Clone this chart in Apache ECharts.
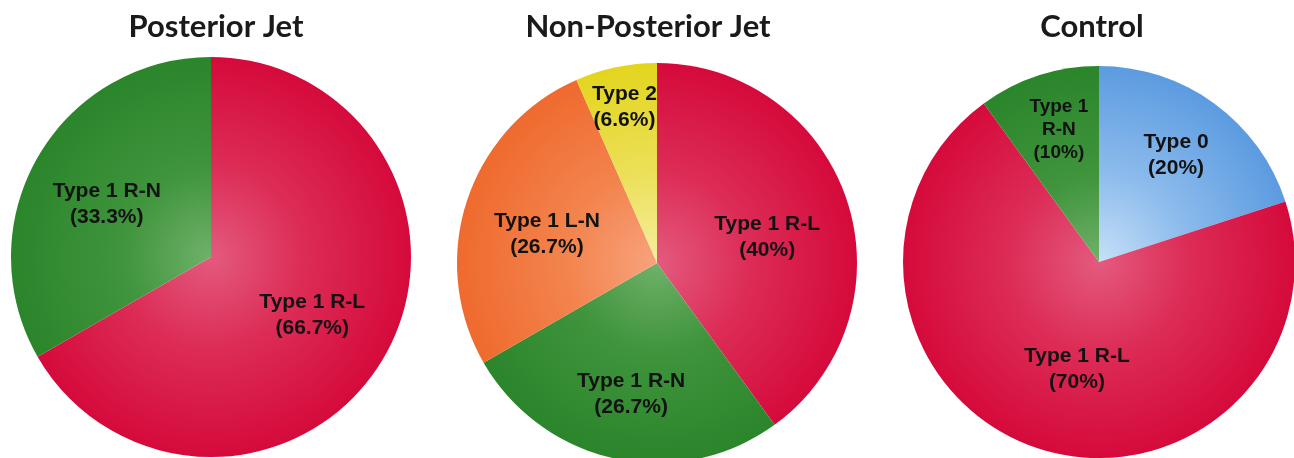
<!DOCTYPE html>
<html>
<head>
<meta charset="utf-8">
<script src="https://cdn.jsdelivr.net/npm/echarts@6/dist/echarts.min.js"></script>
<style>
  html, body { margin: 0; padding: 0; background: #fff; }
  #chart { width: 1294px; height: 458px; }
</style>
</head>
<body>
<div id="chart"></div>
<script>
// data
const posteriorNames = ['Type 1 R-L', 'Type 1 R-N'];
const posteriorValues = [66.7, 33.3];

const nonPosteriorNames = ['Type 1 R-L', 'Type 1 R-N', 'Type 1 L-N', 'Type 2'];
const nonPosteriorValues = [40, 26.7, 26.7, 6.6];

const controlNames = ['Type 0', 'Type 1 R-L', 'Type 1\nR-N'];
const controlValues = [20, 70, 10];

const titles = ['Posterior Jet', 'Non-Posterior Jet', 'Control'];

// colours: [centre, middle, edge]
const shades = {
    red: ['#e45a7e', '#dc2d57', '#d50a3b'],
    green: ['#6fb16a', '#3f943c', '#2b852b'],
    orange: ['#f8a37e', '#f3844e', '#ef6a2e'],
    yellow: ['#f5ee9f', '#ece05a', '#e3d51e'],
    blue: ['#c6e0f8', '#8dbcec', '#5c9be0']
};

const chart = echarts.init(document.getElementById('chart'));

// global radial gradient centred on the pie centre
const shade = (name, cx, cy, r) => ({
    type: 'radial', x: cx, y: cy, r: r, global: true,
    colorStops: [
        { offset: 0, color: shades[name][0] },
        { offset: 0.45, color: shades[name][1] },
        { offset: 1, color: shades[name][2] }
    ]
});

const pies = [
    { cx: 211, cy: 257, r: 200, names: posteriorNames, values: posteriorValues,
      colors: ['red', 'green'], labelInner: 0.14,
      labels: { 1: { offset: [-3, 6] } } },
    { cx: 657, cy: 263, r: 200, names: nonPosteriorNames, values: nonPosteriorValues,
      colors: ['red', 'green', 'orange', 'yellow'], labelInner: 0.16,
      labels: { 0: { offset: [-3, 11] }, 1: { offset: [-1, 15] }, 2: { offset: [3, 8] }, 3: { offset: [-8, -39] } } },
    { cx: 1099, cy: 262, r: 196, names: controlNames, values: controlValues,
      colors: ['blue', 'red', 'green'], labelInner: 0.36,
      labels: { 0: { offset: [-3, 3] }, 1: { offset: [20, -22] }, 2: { offset: [2, -3], fontSize: 19, lineHeight: 23 } } }
];

const series = [];
pies.forEach(p => {
    // coloured slices
    series.push({
        type: 'pie',
        center: [p.cx, p.cy],
        radius: [0, p.r],
        startAngle: 90,
        clockwise: true,
        silent: true,
        label: { show: false },
        labelLine: { show: false },
        itemStyle: { borderWidth: 0 },
        data: p.values.map((v, i) => ({
            name: p.names[i],
            value: v,
            itemStyle: { color: shade(p.colors[i], p.cx, p.cy, p.r) }
        }))
    });
    // transparent ring carrying the labels
    series.push({
        type: 'pie',
        center: [p.cx, p.cy],
        radius: [p.r * p.labelInner, p.r],
        startAngle: 90,
        clockwise: true,
        silent: true,
        z: 5,
        itemStyle: { color: 'rgba(0,0,0,0)', borderWidth: 0 },
        label: {
            show: true,
            position: 'inside',
            formatter: d => d.name + '\n(' + d.value + '%)',
            color: '#121212',
            fontFamily: "'Liberation Sans', Arial, sans-serif",
            fontWeight: 'bold',
            fontSize: 21,
            lineHeight: 26,
            textBorderWidth: 0,
            align: 'center'
        },
        labelLine: { show: false },
        data: p.values.map((v, i) => ({
            name: p.names[i],
            value: v,
            label: p.labels[i]
        }))
    });
});

chart.setOption({
    animation: false,
    title: titles.map((t, i) => ({
        text: t,
        left: [211, 643, 1087][i],
        top: 6,
        textAlign: 'center',
        textStyle: {
            fontFamily: 'Lato, sans-serif',
            fontWeight: 'bold',
            fontSize: 31,
            color: '#1a1a1a'
        }
    })),
    series: series
});
</script>
</body>
</html>
